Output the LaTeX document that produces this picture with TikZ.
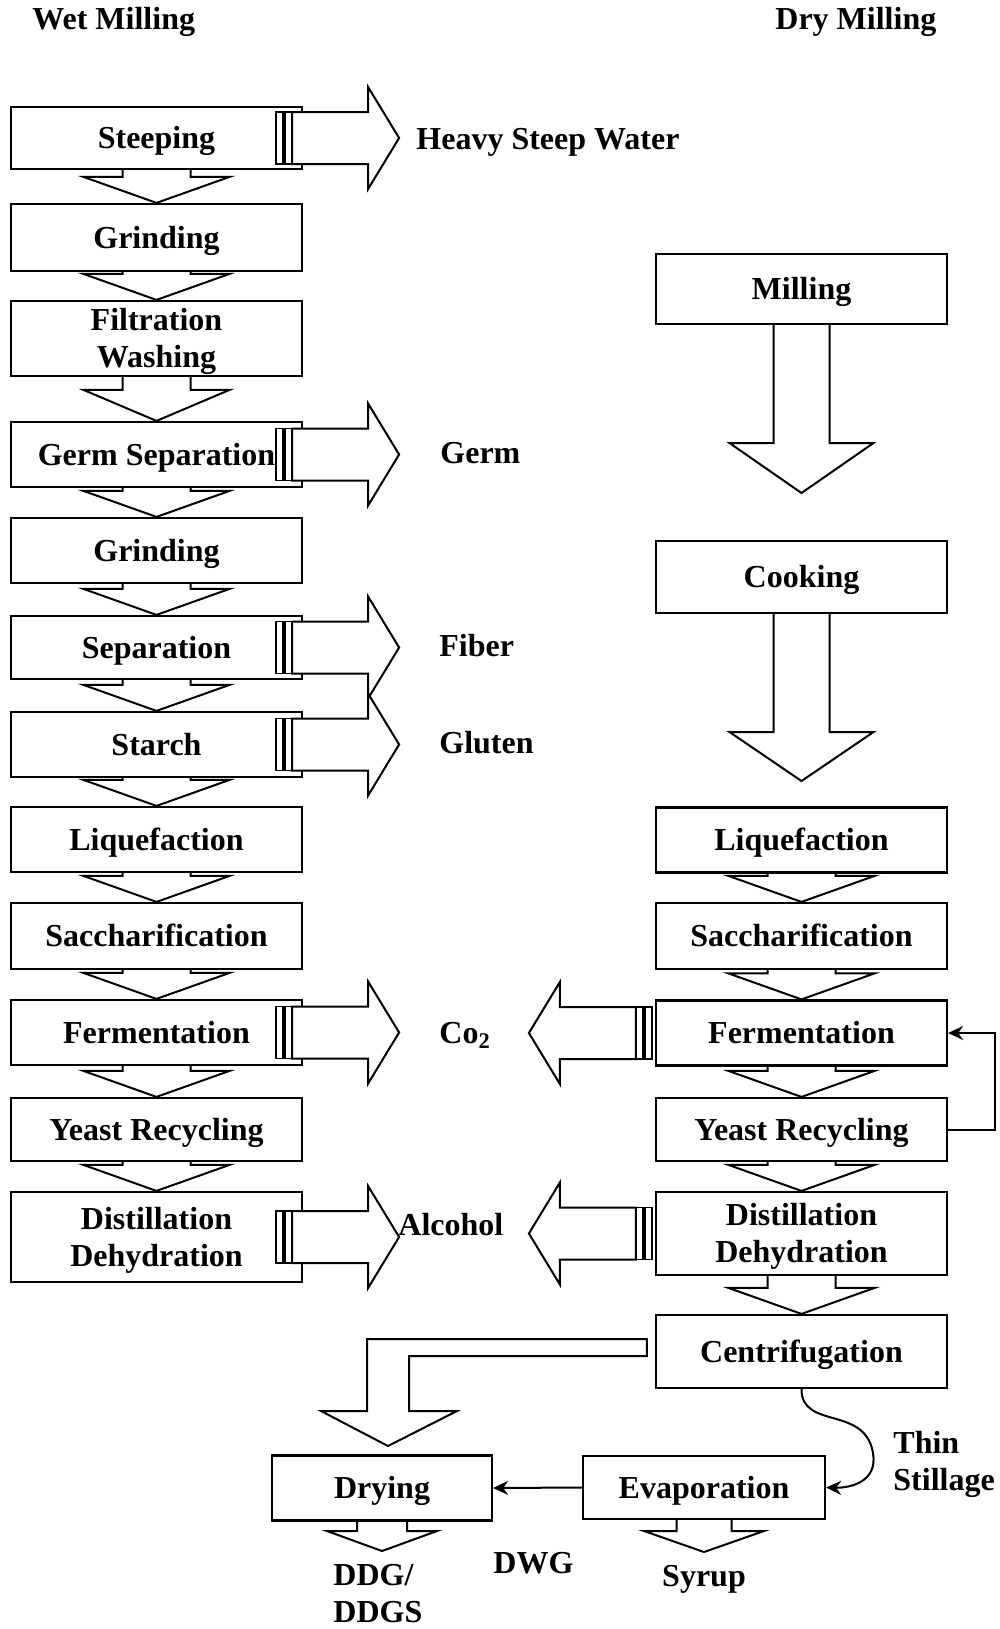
\documentclass[tikz,border=0pt]{standalone}
\usepackage{fontspec}
\setmainfont{Liberation Serif}
\usetikzlibrary{positioning,calc}
\usetikzlibrary{arrows.meta}
\newcommand{\flowfont}{\fontsize{16}{18.5}\selectfont\bfseries}
\tikzset{
	stage/.style={draw=black,line width=1.1pt,minimum width=145.5pt,minimum height=32.5pt,
		inner sep=0pt,align=center,text height=11pt,text depth=0.4pt,font=\flowfont},
	lbl/.style={inner sep=0pt,text height=11pt,text depth=0.4pt,font=\flowfont},
	twoline/.style={text height=29.5pt},
	flow/.style={draw=black,line width=1pt},
	side/.style={flow,fill=white},
	bar/.style={draw=black,line width=0.9pt,fill=white},
	feed/.style={draw=black,line width=1pt,-{Stealth[length=7.5pt,width=7pt]}},
}
% hollow arrow going down: top point, tip, shaft half width, head half width, head length
\newcommand{\dropArrow}[5]{%
	\draw[flow] ($(#1)+(-#3,0)$) -- ($(#2)+(-#3,-#5)$) -- ($(#2)+(-#4,-#5)$) -- (#2)
		-- ($(#2)+(#4,-#5)$) -- ($(#2)+(#3,-#5)$) -- ($(#1)+(#3,0)$);}
% outlet with two bars: start point, direction (1 right, -1 left)
\newcommand{\outArrow}[2]{%
	\begin{scope}[shift={(#1)},xscale=#2]
		\draw[side] (16,-26) -- (92,-26) -- (92,-51) -- (123,0) -- (92,51) -- (92,26) -- (16,26) -- cycle;
		\draw[bar] (0,-26) rectangle (7,26);
		\draw[bar] (9,-26) rectangle (16,26);
	\end{scope}}

\begin{document}
\begin{tikzpicture}[x=0.5pt,y=-0.5pt]
	\useasboundingbox (0,0) rectangle (1000,1629);
	\node[lbl,anchor=west] (wet) at (32,19) {Wet Milling};
	\node[lbl,anchor=west] (drym) at (775,19) {Dry Milling};
	% wet milling
	\node[stage,minimum height=31pt] (steep) at (156.5,138) {Steeping};
	\node[stage,minimum height=33.5pt] (grind1) at (156.5,237.5) {Grinding};
	\node[stage,twoline,minimum height=37.5pt] (filt) at (156.5,338.5) {Filtration\\Washing};
	\node[stage] (germ) at (156.5,454.5) {Germ Separation};
	\node[stage] (grind2) at (156.5,550.5) {Grinding};
	\node[stage,minimum height=31.5pt] (sep) at (156.5,647.5) {Separation};
	\node[stage] (starch) at (156.5,744.5) {Starch};
	\node[stage] (liqw) at (156.5,839.5) {Liquefaction};
	\node[stage,minimum height=33pt] (sacw) at (156.5,936) {Saccharification};
	\node[stage] (ferw) at (156.5,1032.5) {Fermentation};
	\node[stage,minimum height=31.5pt] (yeastw) at (156.5,1129.5) {Yeast Recycling};
	\node[stage,twoline,minimum height=45pt] (distw) at (156.5,1237) {Distillation\\Dehydration};
	\dropArrow{steep.south}{grind1.north}{34}{73}{26}
	\dropArrow{grind1.south}{filt.north}{34}{73}{26}
	\dropArrow{filt.south}{germ.north}{34}{73}{31}
	\dropArrow{germ.south}{grind2.north}{34}{73}{26}
	\dropArrow{grind2.south}{sep.north}{34}{73}{26}
	\dropArrow{sep.south}{starch.north}{34}{73}{26}
	\dropArrow{starch.south}{liqw.north}{34}{73}{26}
	\dropArrow{liqw.south}{sacw.north}{34}{73}{26}
	\dropArrow{sacw.south}{ferw.north}{34}{73}{26}
	\dropArrow{ferw.south}{yeastw.north}{34}{73}{26}
	\dropArrow{yeastw.south}{distw.north}{34}{73}{26}
	\outArrow{$(steep.east)+(-27,0)$}{1}
	\outArrow{$(germ.east)+(-27,0)$}{1}
	\outArrow{$(sep.east)+(-27,0)$}{1}
	\outArrow{$(starch.east)+(-27,0)$}{1}
	\outArrow{$(ferw.east)+(-27,0)$}{1}
	\outArrow{$(distw.east)+(-27,0)$}{1}
	\node[lbl,anchor=west] (hsw) at (416,139) {Heavy Steep Water};
	\node[lbl,anchor=west] (lgerm) at (440,453) {Germ};
	\node[lbl,anchor=west] (lfiber) at (439,646) {Fiber};
	\node[lbl,anchor=west] (lgluten) at (439,743) {Gluten};
	\node[lbl,anchor=west] (lco) at (439,1033) {Co\textsubscript{2}};
	\node[lbl,anchor=west] (lalc) at (398,1225) {Alcohol};
	% dry milling
	\node[stage,minimum height=35pt] (mill) at (801.5,289) {Milling};
	\node[stage,minimum height=36pt] (cook) at (801.5,577) {Cooking};
	\node[stage] (liqd) at (801.5,840) {Liquefaction};
	\node[stage,minimum height=33pt] (sacd) at (801.5,936) {Saccharification};
	\node[stage] (ferd) at (801.5,1033) {Fermentation};
	\node[stage,minimum height=31.5pt] (yeastd) at (801.5,1129.5) {Yeast Recycling};
	\node[stage,twoline,minimum height=41.5pt] (distd) at (801.5,1233.5) {Distillation\\Dehydration};
	\node[stage,minimum height=36.5pt] (centr) at (801.5,1351.5) {Centrifugation};
	\coordinate (milltip) at (801.5,493);
	\coordinate (cooktip) at (801.5,781);
	\dropArrow{mill.south}{milltip}{28}{72}{50}
	\dropArrow{cook.south}{cooktip}{28}{72}{49}
	\dropArrow{liqd.south}{sacd.north}{34}{73}{26}
	\dropArrow{sacd.south}{ferd.north}{34}{73}{26}
	\dropArrow{ferd.south}{yeastd.north}{34}{73}{26}
	\dropArrow{yeastd.south}{distd.north}{34}{73}{26}
	\dropArrow{distd.south}{centr.north}{34}{73}{26}
	\outArrow{$(ferd.west)+(-3,0)$}{-1}
	\outArrow{$(distd.west)+(-3,0)$}{-1}
	\draw[feed] (yeastd.east) -- ++(47,0) |- (ferd.east);
	% by-products
	\node[stage,minimum width=110pt] (dry) at (382,1488) {Drying};
	\node[stage,minimum width=121pt,minimum height=31.5pt] (evap) at (704,1487.5) {Evaporation};
	\coordinate (ltip) at (388,1446);
	\draw[side] ($(centr.west)+(-8,-12.5)$) -| (367,1411) -- (321,1411) -- (ltip)
		-- (457,1411) -- (409,1411) |- ($(centr.west)+(-8,4.5)$) -- cycle;
	\draw[feed] (centr.south) .. controls (801.5,1430) and (865,1405) .. (873,1453)
		.. controls (878,1482) and (850,1488) .. (evap.east);
	\draw[feed] (evap.west) -- (dry.east);
	\coordinate (drytip) at (382,1551);
	\coordinate (evaptip) at (704,1552);
	\dropArrow{dry.south}{drytip}{25}{55}{20}
	\dropArrow{evap.south}{evaptip}{27.5}{60}{21}
	\node[lbl,twoline,anchor=north west,align=left] (thin) at (893,1431) {Thin\\Stillage};
	\node[lbl,twoline,anchor=north west,align=left] (ddg) at (333,1563) {DDG/\\DDGS};
	\node[lbl,anchor=west] (dwg) at (493,1563) {DWG};
	\node[lbl] (syrup) at (704,1576) {Syrup};
\end{tikzpicture}
\end{document}
